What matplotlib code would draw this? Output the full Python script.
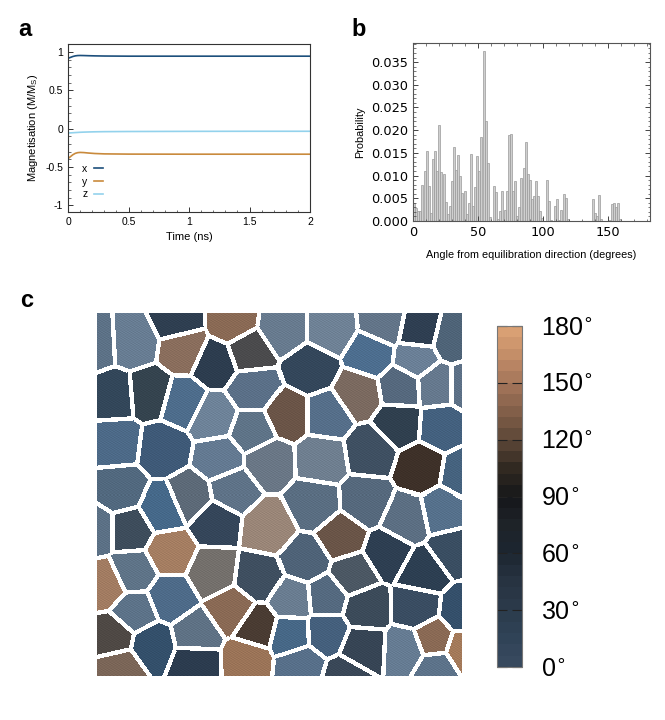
import numpy as np
import matplotlib
matplotlib.use("Agg")
import matplotlib.pyplot as plt
from matplotlib.colors import LinearSegmentedColormap, Normalize, to_rgb
from matplotlib.cm import ScalarMappable
from matplotlib.ticker import MultipleLocator, AutoMinorLocator

plt.rcParams['font.family'] = ['Liberation Sans', 'DejaVu Sans']

# ---- panel a: magnetisation vs time
time_ns = [0, 0.02, 0.04, 0.06, 0.08, 0.1, 0.13, 0.17, 0.22, 0.3, 0.5, 1.0, 1.5, 2.0]
mag_x = [0.918, 0.93, 0.942, 0.95, 0.954, 0.955, 0.954, 0.952, 0.95, 0.948, 0.946, 0.946, 0.946, 0.946]
mag_y = [-0.39, -0.365, -0.34, -0.322, -0.313, -0.31, -0.312, -0.318, -0.324, -0.329, -0.332, -0.333, -0.333, -0.333]
mag_z = [-0.056, -0.055, -0.053, -0.051, -0.049, -0.047, -0.045, -0.043, -0.041, -0.039, -0.037, -0.035, -0.034, -0.034]

# ---- panel b: histogram of angles (bins of 180/111 deg)
bin_width = 180 / 111
probability = [
    0.0039, 0.0028, 0.0021, 0.0023, 0.0079, 0.0109, 0.0155, 0.0076, 0.0017, 0.0137,
    0.0155, 0.0111, 0.0212, 0.0107, 0.0104, 0.0041, 0.0015, 0.0032, 0.0088, 0.0164,
    0.0113, 0.0146, 0.0099, 0.0061, 0.0067, 0.0016, 0.0039, 0.0147, 0.0032, 0.0074,
    0.0144, 0.0110, 0.0185, 0.0375, 0.0221, 0.0127, 0.0008, 0.0, 0.0076, 0.0063,
    0.0004, 0.0023, 0.0067, 0.0024, 0.0065, 0.0190, 0.0191, 0.0065, 0.0088, 0.0010,
    0.0030, 0.0094, 0.0116, 0.0174, 0.0103, 0.0090, 0.0049, 0.0055, 0.0087, 0.0056,
    0.0021, 0.0006, 0.0, 0.0090, 0.0043, 0.0002, 0.0, 0.0032, 0.0049, 0.0002,
    0.0024, 0.0059, 0.0050, 0.0004, 0.0, 0.0, 0.0, 0.0, 0.0, 0.0,
    0.0, 0.0, 0.0, 0.0, 0.0, 0.0049, 0.0017, 0.0011, 0.0057, 0.0004,
    0.0, 0.0, 0.0, 0.0002, 0.0037, 0.0040, 0.0030, 0.0039, 0.0004,
]

# ---- panel c: grains (seed points in image pixels and grain colour)
grain_x = [95, 133, 177, 184, 233, 215, 249, 282, 330, 383, 418, 452, 310, 370, 415,
           357, 400, 435, 466, 287, 326, 398, 440, 370, 420, 462, 113, 150, 183, 213,
           253, 253, 116, 163, 220, 268, 320, 120, 163, 190, 232, 95, 130, 215, 268,
           170, 213, 105, 133, 170, 258, 135, 113, 152, 196, 232, 257, 120, 195, 247,
           313, 365, 443, 405, 340, 305, 387, 452, 352, 422, 292, 325, 365, 415, 462,
           290, 325, 362, 405, 432, 463, 300, 435, 345]
grain_y = [345, 343, 321, 350, 323, 364, 352, 330, 330, 325, 332, 340, 370, 355, 360,
           395, 388, 386, 386, 416, 416, 425, 428, 452, 468, 475, 397, 394, 403, 418,
           390, 432, 444, 450, 460, 462, 460, 490, 510, 498, 490, 530, 530, 522, 528,
           552, 572, 585, 572, 598, 578, 612, 637, 645, 635, 610, 627, 668, 662, 660,
           505, 502, 512, 520, 537, 560, 553, 550, 575, 572, 600, 597, 608, 607, 612,
           635, 633, 648, 650, 640, 650, 665, 668, 678]
grain_color = ['#5d7287', '#687d93', '#2f3f51', '#8a6e5d', '#8a6a55', '#2d3d4f', '#4b4b4d',
               '#687b8f', '#6f8296', '#637589', '#2f3f52', '#4f6478', '#34475b', '#4d6e8f',
               '#6b8097', '#7b6a60', '#56697e', '#66798e', '#5d7187', '#6b5548', '#566f8a',
               '#30404f', '#44617f', '#3f5062', '#3e3129', '#46637f', '#33475a', '#35444f',
               '#4e6d8c', '#6e8399', '#5b7088', '#5f7488', '#4d6a88', '#3f5a78', '#647a92',
               '#6a7786', '#6f7f90', '#52697f', '#46698a', '#5d6a78', '#5f7388', '#5c7186',
               '#3e4d5c', '#35465a', '#9a8678', '#a57e62', '#74706c', '#a27c62', '#5f7488',
               '#4e6b89', '#3f4f60', '#5d7389', '#4f4945', '#34506b', '#5f7285', '#8a6a55',
               '#4a3c33', '#7b6658', '#2c3c4f', '#9b7458', '#5a6e82', '#56697d', '#56718c',
               '#5c6f83', '#6a5548', '#4f6378', '#2e3f52', '#3a4e62', '#4c5864', '#2d3f52',
               '#6a7d91', '#556a80', '#3c4b5a', '#3a4d62', '#35506b', '#476887', '#45607d',
               '#374555', '#667c93', '#8a6a55', '#a47a5a', '#58708a', '#5d738a', '#3a4858']

cbar_ticks = [0, 30, 60, 90, 120, 150, 180]
cbar_colors = ['#37495e', '#2f4256', '#2b3a4a', '#263240', '#1c2530', '#1e2328', '#15171a',
               '#302820', '#5a4536', '#7f5d47', '#a07358', '#c08a66', '#d9a074']

fig = plt.figure(figsize=(6.65, 7.2), dpi=100)

# ================= a
ax = fig.add_axes([0.1023, 0.7056, 0.364, 0.2333])
ax.plot(time_ns, mag_x, color='#1c4f7c', lw=1.2, label='x')
ax.plot(time_ns, mag_y, color='#c98a3c', lw=1.2, label='y')
ax.plot(time_ns, mag_z, color='#93d2ec', lw=1.2, label='z')
ax.set_xlim(0, 2)
ax.set_ylim(-1.087, 1.105)
ax.set_xticks([0, 0.5, 1, 1.5, 2])
ax.set_xticklabels(['0', '0.5', '1', '1.5', '2'])
ax.set_yticks([-1, -0.5, 0, 0.5, 1])
ax.set_yticklabels(['-1', '-0.5', '0', '0.5', '1'])
ax.xaxis.set_minor_locator(MultipleLocator(0.1))
ax.yaxis.set_minor_locator(MultipleLocator(0.1))
ax.tick_params(which='both', direction='in', labelsize=7.5, colors='#333333', labelcolor='black')
ax.tick_params(which='major', length=3.5, width=0.7)
ax.tick_params(which='minor', length=1.8, width=0.5)
for s in ax.spines.values():
    s.set_color('#333333')
    s.set_linewidth(0.8)
ax.set_xlabel('Time (ns)', fontsize=8, labelpad=4)
ax.set_ylabel('Magnetisation (M/M$_\\mathregular{S}$)', fontsize=8, labelpad=4)
ax.legend(loc='lower left', frameon=False, markerfirst=False, fontsize=7.5,
          handlelength=0.9, handletextpad=0.6, labelspacing=0.25,
          bbox_to_anchor=(0.02, 0.02))
fig.text(0.027, 0.975, 'a', fontsize=17, fontweight='bold', va='top')

# ================= b
bx = fig.add_axes([0.621, 0.6931, 0.3564, 0.2472])
centers = (np.arange(len(probability)) + 0.5) * bin_width
bx.bar(centers, probability, width=bin_width * 0.95, color='#cfcfcf',
       edgecolor='#999999', linewidth=0.5)
bx.set_xlim(0, 182.5)
bx.set_ylim(0, 0.0392)
bx.set_xticks([0, 50, 100, 150])
bx.set_yticks(np.arange(0, 0.0351, 0.005))
bx.set_yticklabels(['%.3f' % v for v in np.arange(0, 0.0351, 0.005)])
bx.xaxis.set_minor_locator(MultipleLocator(10))
bx.yaxis.set_minor_locator(AutoMinorLocator(5))
for lab in bx.get_xticklabels() + bx.get_yticklabels():
    lab.set_family('DejaVu Sans')
bx.tick_params(which='both', direction='in', top=True, right=True, labelsize=9.3,
               colors='#444444', labelcolor='black')
bx.tick_params(which='major', length=3.5, width=0.7)
bx.tick_params(which='minor', length=1.8, width=0.5)
for s in bx.spines.values():
    s.set_color('#555555')
    s.set_linewidth(0.8)
bx.set_xlabel('Angle from equilibration direction (degrees)', fontsize=7.8, labelpad=8)
bx.set_ylabel('Probability', fontsize=7.8, labelpad=4)
fig.text(0.528, 0.975, 'b', fontsize=17, fontweight='bold', va='top')

# ================= c
cx = fig.add_axes([0.1459, 0.0611, 0.5474, 0.5042])
x0, x1, y0, y1 = 97, 461, 313, 676
gx, gy = np.meshgrid(np.arange(x0, x1) + 0.5, np.arange(y0, y1) + 0.5)
sx = np.array(grain_x, dtype=float)
sy = np.array(grain_y, dtype=float)
d2 = (gx[..., None] - sx) ** 2 + (gy[..., None] - sy) ** 2
two = np.argpartition(d2, 1, axis=-1)[..., :2]
da = np.take_along_axis(d2, two, axis=-1)
order = np.argsort(da, axis=-1)
two = np.take_along_axis(two, order, axis=-1)
da = np.take_along_axis(da, order, axis=-1)
i1, i2 = two[..., 0], two[..., 1]
sep = np.sqrt((sx[i1] - sx[i2]) ** 2 + (sy[i1] - sy[i2]) ** 2)
edge_dist = (da[..., 1] - da[..., 0]) / (2 * sep)
rgb = np.array([to_rgb(c) for c in grain_color])
img = rgb[i1]
# fine texture: light horizontal striping like the rendered spins
stripe = 0.07 * np.cos(gy * 2.6) * np.cos(gx * 1.7 + gy * 0.3)
img = np.clip(img * (1 + stripe[..., None]), 0, 1)
img[edge_dist < 2.2] = 1.0
cx.imshow(img, extent=(x0, x1, y1, y0), interpolation='nearest', aspect='auto')
cx.set_axis_off()
fig.text(0.03, 0.598, 'c', fontsize=17, fontweight='bold', va='top')

# colourbar
cmap = LinearSegmentedColormap.from_list('grain', cbar_colors, N=30)
cax = fig.add_axes([0.7474, 0.0736, 0.0376, 0.4736])
cb = fig.colorbar(ScalarMappable(norm=Normalize(0, 180), cmap=cmap), cax=cax, ticks=cbar_ticks)
cb.set_ticklabels(['%d$^{\\circ}$' % v for v in cbar_ticks])
cb.outline.set_edgecolor('#777777')
cb.outline.set_linewidth(0.8)
cax.tick_params(direction='in', left=True, right=True, length=7, width=0.8,
                color='#222222', labelsize=18, pad=14)

fig.savefig('out.png', dpi=100)
